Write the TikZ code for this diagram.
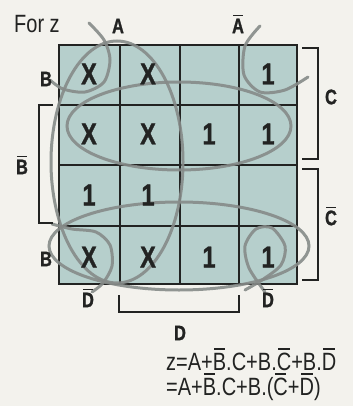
\documentclass[tikz,border=0pt]{standalone}
\usepackage{fontspec}
\setmainfont{Liberation Sans}[FakeStretch=0.8]
\newfontfamily\kbold{Liberation Sans Bold}[FakeStretch=0.78, FakeBold=1.2]

\definecolor{kpaper}{HTML}{F3F2ED}
\definecolor{kfill}{HTML}{B6CFCC}
\definecolor{kink}{HTML}{222322}
\definecolor{kloop}{HTML}{868B89}

% bar over a letter
\newcommand\ov[1]{\setbox0=\hbox{#1}\hbox{\rlap{\kern0.1\wd0\rule[\dimexpr\ht0+0.11em\relax]{0.8\wd0}{0.075em}}\box0}}

\begin{document}
\begin{tikzpicture}[
        x=1pt, y=-1pt,
        every node/.style={text=kink, inner sep=0pt},
        val/.style={font=\fontsize{30}{30}\selectfont\kbold},
        lbl/.style={font=\fontsize{21}{21}\selectfont\kbold},
        plain/.style={font=\fontsize{25}{25}\selectfont, anchor=base west},
        loop/.style={draw=kloop, line width=3pt, line cap=round, opacity=0.9},
        brk/.style={draw=kink, line width=1.5pt},
        gridline/.style={draw=kink, line width=1.6pt}
    ]
    \fill[kpaper] (0,0) rectangle (353,406);
    \useasboundingbox (0,0) rectangle (353,406);

    % Map
    \fill[kfill] (59,45) rectangle (297,284);
    \draw[gridline] (59,45) rectangle (297,284);
    \draw[gridline] (120,45) -- (120,284);
    \draw[gridline] (180,45) -- (180,284);
    \draw[gridline] (239,45) -- (239,284);
    \draw[gridline] (59,105) -- (297,105);
    \draw[gridline] (59,165) -- (297,165);
    \draw[gridline] (59,226) -- (297,226);

    % Groups
    \draw[loop] (117,162) ellipse [x radius=66, y radius=121];
    \draw[loop] (179,126) ellipse [x radius=112, y radius=44];
    \draw[loop] (179,246) ellipse [x radius=130, y radius=44];
    \draw[loop] plot[smooth] coordinates {(89,23) (104,40) (110,60) (104,82) (85,92) (63,89) (50,80)};
    \draw[loop] plot[smooth] coordinates {(260,26) (245,46) (244,75) (260,92) (285,90) (308,77)};
    \draw[loop] plot[smooth] coordinates {(52,224) (72,229) (96,232) (110,245) (112,266) (103,283) (92,292)};
    \draw[loop] plot[smooth] coordinates {(265,292) (249,268) (245,246) (256,229) (272,228) (285,246) (281,265) (262,280) (245,290)};

    % Cells
    \node[val] (x11) at (89,74) {X};
    \node[val] (x12) at (148,74) {X};
    \node[val] (x14) at (268,74) {1};
    \node[val] (x21) at (89,134) {X};
    \node[val] (x22) at (148,134) {X};
    \node[val] (x23) at (209,134) {1};
    \node[val] (x24) at (268,134) {1};
    \node[val] (x31) at (89,195) {1};
    \node[val] (x32) at (148,195) {1};
    \node[val] (x41) at (89,257) {X};
    \node[val] (x42) at (148,257) {X};
    \node[val] (x43) at (209,257) {1};
    \node[val] (x44) at (268,257) {1};

    % Labels
    \node[plain] (title) at (14,33) {For z};
    \node[lbl] (la) at (118,26) {A};
    \node[lbl] (lna) at (238,24) {\ov{A}};
    \node[lbl] (lb1) at (46,79) {B};
    \node[lbl] (lnb) at (22,165) {\ov{B}};
    \node[lbl] (lb4) at (46,259) {B};
    \node[lbl] (lc) at (331,97) {C};
    \node[lbl] (lnc) at (331,216) {\ov{C}};
    \node[lbl] (lnd1) at (88,298) {\ov{D}};
    \node[lbl] (lnd4) at (268,298) {\ov{D}};
    \node[lbl] (ld) at (180,333) {D};

    % Brackets
    \draw[brk] (302,48) -- (318,48) -- (318,159) -- (302,159);
    \draw[brk] (302,169) -- (318,169) -- (318,280) -- (302,280);
    \draw[brk] (53,105) -- (39,105) -- (39,223) -- (53,223);
    \draw[brk] (119,295) -- (119,312) -- (239,312) -- (239,295);

    % Result
    \node[plain] (eq1) at (166,370) {z=A+\ov{B}.C+B.\ov{C}+B.\ov{D}};
    \node[plain] (eq2) at (166,395) {=A+\ov{B}.C+B.(\ov{C}+\ov{D})};

\end{tikzpicture}
\end{document}
